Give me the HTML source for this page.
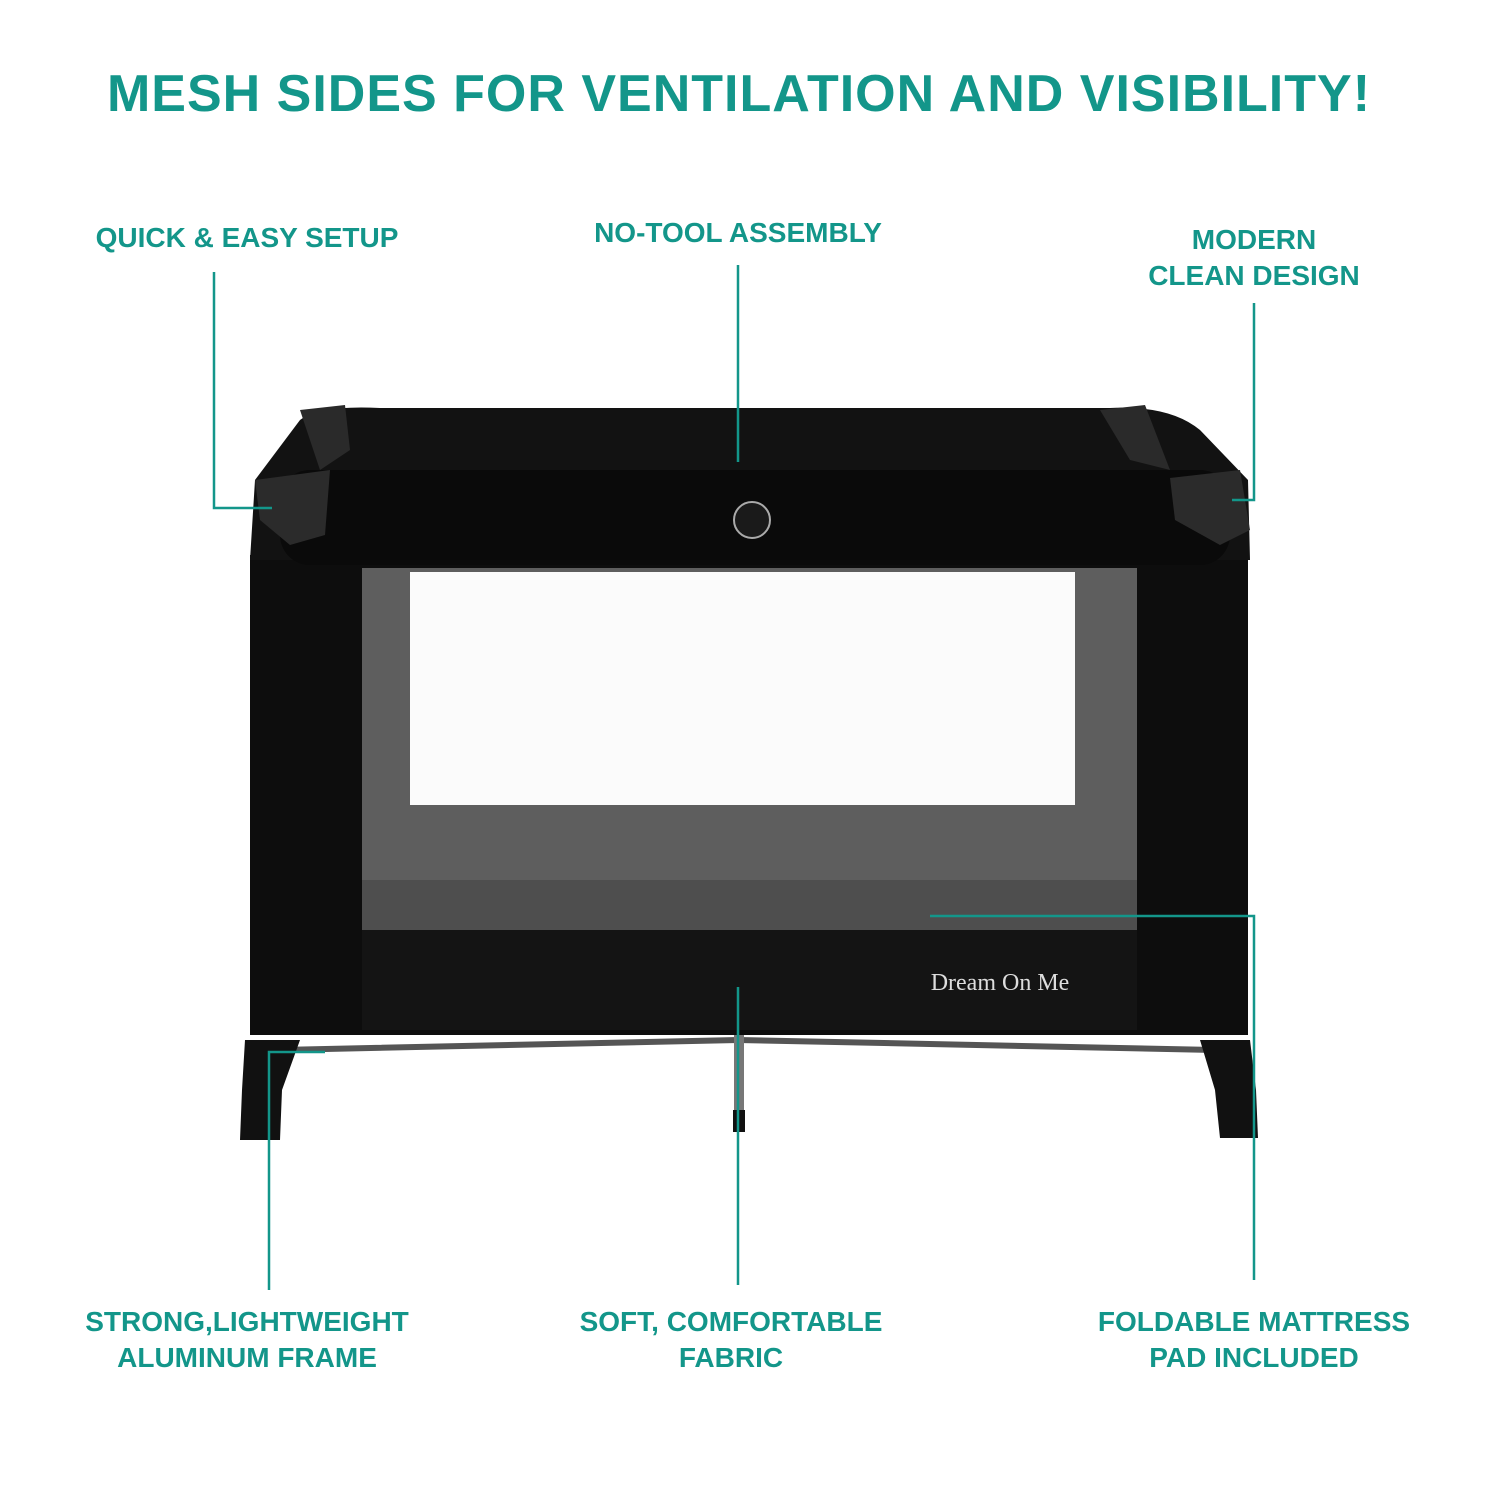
<!DOCTYPE html>
<html><head><meta charset="utf-8"><style>
body{margin:0;background:#fff;width:1500px;height:1500px;overflow:hidden;font-family:"Liberation Sans",sans-serif}
.t{position:absolute;color:#13968a;font-weight:bold;text-align:center;white-space:nowrap}
</style></head><body>
<div class="t" style="left:0;width:1478px;top:64px;font-size:52px;letter-spacing:1px">MESH SIDES FOR VENTILATION AND VISIBILITY!</div>
<div class="t" style="left:47px;width:400px;top:222px;font-size:28px">QUICK &amp; EASY SETUP</div>
<div class="t" style="left:538px;width:400px;top:217px;font-size:28px">NO-TOOL ASSEMBLY</div>
<div class="t" style="left:1054px;width:400px;top:222px;font-size:28px;line-height:36px">MODERN<br>CLEAN DESIGN</div>
<div class="t" style="left:47px;width:400px;top:1304px;font-size:28px;line-height:36px">STRONG,LIGHTWEIGHT<br>ALUMINUM FRAME</div>
<div class="t" style="left:531px;width:400px;top:1304px;font-size:28px;line-height:36px">SOFT, COMFORTABLE<br>FABRIC</div>
<div class="t" style="left:1054px;width:400px;top:1304px;font-size:28px;line-height:36px">FOLDABLE MATTRESS<br>PAD INCLUDED</div>
<svg width="1500" height="1500" style="position:absolute;left:0;top:0">
<path d="M280 1050 L738 1040 L1215 1050" stroke="#555" stroke-width="6" fill="none"/>
<rect x="734" y="1035" width="10" height="95" fill="#777"/>
<rect x="733" y="1110" width="12" height="22" fill="#111"/>
<path d="M245 1040 L300 1040 L282 1090 L280 1140 L240 1140 L242 1090Z" fill="#111"/>
<path d="M1200 1040 L1250 1040 L1256 1090 L1258 1138 L1220 1138 L1215 1090Z" fill="#111"/>
<rect x="250" y="555" width="998" height="480" fill="#0d0d0d"/>
<rect x="362" y="568" width="775" height="362" fill="#5e5e5e"/>
<rect x="362" y="880" width="775" height="50" fill="#4e4e4e"/>
<rect x="410" y="572" width="665" height="233" fill="#fbfbfb"/>
<rect x="362" y="930" width="775" height="100" fill="#141414"/>
<text x="1000" y="990" font-family="Liberation Serif,serif" font-size="24" fill="#ddd" text-anchor="middle">Dream On Me</text>
<path d="M300 420 Q320 405 380 408 L1110 408 Q1170 405 1200 430 L1248 480 L1250 560 L250 560 L255 480Z" fill="#121212"/>
<rect x="280" y="470" width="950" height="95" rx="30" fill="#0a0a0a"/>
<path d="M300 410 L345 405 L350 450 L320 470 Z" fill="#2a2a2a"/>
<path d="M1100 410 L1145 405 L1170 470 L1130 460 Z" fill="#2a2a2a"/>
<path d="M255 480 L330 470 L325 535 L290 545 L260 520Z" fill="#2b2b2b"/>
<path d="M1170 478 L1240 470 L1250 530 L1220 545 L1175 520Z" fill="#2b2b2b"/>
<circle cx="752" cy="520" r="18" fill="#1a1a1a" stroke="#aaa" stroke-width="2"/>
<g stroke="#13968a" stroke-width="2.5" fill="none">
<path d="M214 272 V508 H272"/>
<path d="M738 265 V462"/>
<path d="M1254 303 V500 H1232"/>
<path d="M269 1290 V1052 H325"/>
<path d="M738 987 V1285"/>
<path d="M930 916 H1254 V1280"/>
</g>
</svg>
</body></html>
